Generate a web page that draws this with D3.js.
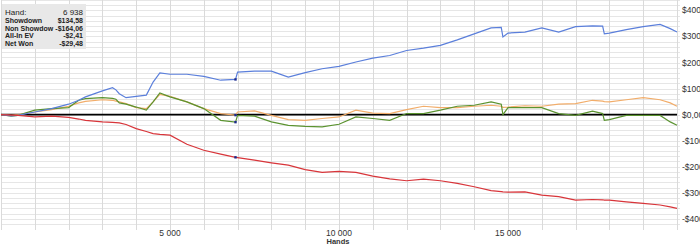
<!DOCTYPE html>
<html><head><meta charset="utf-8">
<script src="https://cdn.jsdelivr.net/npm/d3@7"></script>
<style>
html,body{margin:0;padding:0;background:#fff;overflow:hidden;}
svg{display:block;font-family:"Liberation Sans",Arial,sans-serif;}
</style></head><body>
<svg id="c" width="700" height="246"></svg>
<script>
const hands = [0,300,500,1000,1500,2000,2300,2500,3000,3300,3400,3500,3700,4000,4300,4500,4700,5000,5500,6000,6500,6938,7000,7500,8000,8500,9000,9500,10000,10500,11000,11500,12000,12500,13000,13500,14000,14500,14800,14850,15000,15500,16000,16500,17000,17500,17800,17850,18000,18500,19000,19500,19800,20000];
const showdown = [0,-5,-3,10,23,40,55,68,91,103,95,80,65,70,75,125,160,155,155,147,132,135,163,167,167,144,161,176,185,202,217,227,246,255,266,287,310,333,335,298,313,317,333,317,338,341,340,310,313,326,338,346,330,317];
const nonShowdown = [0,-2,-3,-9,-6,-11,-17,-22,-28,-30,-31,-32,-38,-54,-65,-73,-76,-79,-114,-137,-152,-164,-165,-175,-185,-194,-211,-222,-218,-222,-236,-247,-254,-248,-254,-264,-277,-292,-296,-297,-298,-297,-309,-315,-328,-326,-327,-328,-328,-335,-341,-347,-354,-360];
const allInEV = [0,-3,0,10,19,32,45,51,57,55,52,49,42,27,23,49,78,70,49,23,4,-2,10,14,-3,-19,-22,-15,-9,17,6,4,19,32,27,27,32,36,32,28,29,34,32,40,42,55,52,50,49,57,65,57,45,32];
const netWon = [0,-6,-3,17,23,27,55,61,65,62,59,45,40,29,17,49,83,68,49,23,-22,-29,-3,-6,-28,-41,-45,-47,-37,-9,-15,-22,4,4,17,32,36,49,40,0,27,27,27,4,-3,13,4,-22,-19,-3,-3,-3,-28,-41];
const xTicks = [5000,10000,15000];
const yTicks = [400,300,200,100,0,-100,-200,-300,-400];
const legendLabels = ["Hand:","Showdown","Non Showdow","All-In EV","Net Won"];
const legendValues = ["6 938","$134,58","-$164,06","-$2,41","-$29,48"];
const hoverHand = 6938;

const svg = d3.select("#c");
const x = d3.scaleLinear().domain([0,20000]).range([1,677]);
const y = d3.scaleLinear().domain([-420,440]).range([224,0]);

// grid
const g = svg.append("g");
g.selectAll("line.h").data(d3.range(-420,441,20)).join("line")
  .attr("x1",1).attr("x2",680).attr("y1",d=>Math.round(y(d))+0.5).attr("y2",d=>Math.round(y(d))+0.5)
  .attr("stroke","#e6e6e6").attr("stroke-width",1);
g.selectAll("line.v").data(d3.range(0,20001,1000)).join("line")
  .attr("y1",0).attr("y2",230).attr("x1",d=>Math.round(x(d))+0.5).attr("x2",d=>Math.round(x(d))+0.5)
  .attr("stroke","#dadada").attr("stroke-width",1);

// axes labels
const fmt = v => (v<0?"-":"")+"$"+Math.abs(v)+",00";
svg.selectAll("text.yl").data(yTicks).join("text")
  .attr("x",682).attr("y",d=>y(d)+3).attr("font-size",8.5).attr("fill","#333")
  .text(fmt);
svg.selectAll("text.xl").data(xTicks).join("text")
  .attr("x",d=>x(d)).attr("y",236).attr("text-anchor","middle").attr("font-size",8.5).attr("fill","#333")
  .text(d=>d3.format(",")(d).replace(/,/g," "));
svg.append("text").attr("x",338).attr("y",244).attr("text-anchor","middle")
  .attr("font-size",7.5).attr("font-weight","bold").attr("fill","#333").text("Hands");

// zero line
svg.append("line").attr("x1",1).attr("x2",677).attr("y1",y(0)).attr("y2",y(0))
  .attr("stroke","#000").attr("stroke-width",1.6);

const series = [
  {v:allInEV,c:"#f2ad6a"},
  {v:netWon,c:"#5b9330"},
  {v:showdown,c:"#5b7fdb"},
  {v:nonShowdown,c:"#d8353a"}
];
const line = d3.line().x((d,i)=>x(hands[i])).y(d=>y(d));
series.forEach(s=>{
  svg.append("path").attr("d",line(s.v)).attr("fill","none").attr("stroke",s.c).attr("stroke-width",1.2);
});
const hi = hands.indexOf(hoverHand);
series.forEach(s=>{
  svg.append("rect").attr("x",x(hoverHand)-1.2).attr("y",y(s.v[hi])-1.2).attr("width",2.4).attr("height",2.4).attr("fill","#1c2a8c");
});

// legend
svg.append("rect").attr("x",2).attr("y",4).attr("width",84).attr("height",45).attr("fill","#e8e8e8");
legendLabels.forEach((t,i)=>{
  svg.append("text").attr("x",5).attr("y",15+i*7.8).attr("font-size",i===0?8:7).attr("font-weight",i===0?"normal":"bold").attr("fill","#222").text(t);
  svg.append("text").attr("x",83).attr("y",15+i*7.8).attr("text-anchor","end").attr("font-size",i===0?8:7).attr("font-weight",i===0?"normal":"bold").attr("fill","#222").text(legendValues[i]);
});
</script></body></html>
